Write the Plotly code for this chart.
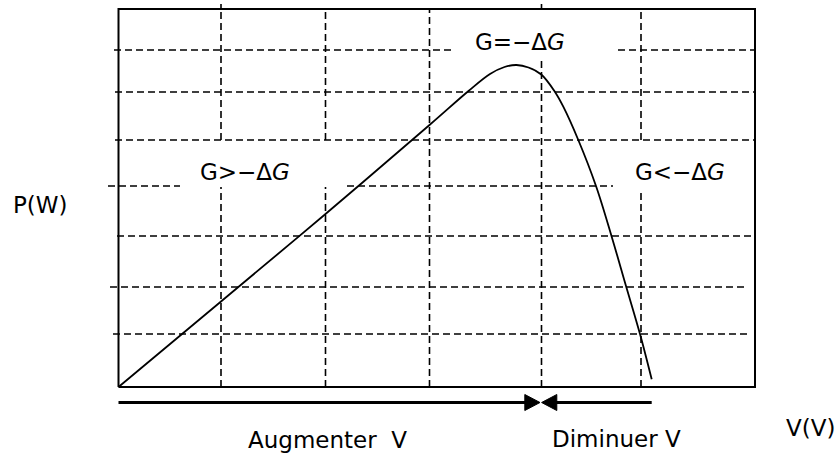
import plotly.graph_objects as go

# P-V characteristic (arbitrary units)
v = [0, 10.25, 20.7, 31.1, 35.0, 37.15, 38.6, 39.8, 41.0, 42.28, 43.65,
     44.48, 45.98, 47.75, 49.32, 50.75, 52.15, 53.32]
p = [0, 8.55, 17.3, 26.2, 29.6, 31.3, 32.0, 32.2, 31.95, 31.25, 29.5,
     28.03, 24.7, 20.1, 15.03, 10.1, 5.3, 0.77]

# frame limits
v_max = 63.65
p_max = 37.8

# dashed grid: (position, [(start, end), ...])
grid_v = [
    (10.25, [(0, 20.0), (24.7, 38.3)]),
    (20.7, [(0, 20.0), (24.7, 37.8)]),
    (31.1, [(0, 37.8)]),
    (42.3, [(0, 32.7), (37.7, 38.3)]),
    (52.25, [(0, 19.7), (24.7, 37.8)]),
]
grid_h = [
    (33.7, [(-0.45, 33.65), (49.95, 63.65)]),
    (29.5, [(-0.35, 63.65)]),
    (24.7, [(-0.35, 63.65)]),
    (20.1, [(-1.05, 6.15), (22.85, 49.45)]),
    (15.1, [(-0.15, 63.65)]),
    (10.0, [(-0.85, 62.95)]),
    (5.3, [(-0.55, 63.15)]),
]

# direction arrows below the frame
arrow_y = -1.55
arrow_start, arrow_meet, arrow_end = 0, 42.23, 53.32

FONT = "DejaVu Sans"
W, H = 835, 454
L, R, T, B = 98, 77, 0, 42

fig = go.Figure()

gx, gy = [], []
for x0, segs in grid_v:
    for a, b in segs:
        gx += [x0, x0, None]
        gy += [a, b, None]
for y0, segs in grid_h:
    for a, b in segs:
        gx += [a, b, None]
        gy += [y0, y0, None]
fig.add_trace(go.Scatter(x=gx, y=gy, mode="lines",
                         line=dict(color="black", width=1.6, dash="7px,4px")))

# frame
fig.add_trace(go.Scatter(x=[0, v_max, v_max, 0, 0], y=[0, 0, p_max, p_max, 0],
                         mode="lines", line=dict(color="black", width=2)))

# curve
fig.add_trace(go.Scatter(x=v, y=p, mode="lines",
                         line=dict(color="black", width=1.8, shape="spline",
                                   smoothing=1.0)))

# arrows
fig.add_trace(go.Scatter(x=[arrow_start, arrow_meet - 1.5, None, arrow_meet + 1.5, arrow_end],
                         y=[arrow_y, arrow_y, None, arrow_y, arrow_y],
                         mode="lines", line=dict(color="black", width=3)))
fig.add_trace(go.Scatter(
    x=[arrow_meet - 1.6, arrow_meet - 0.08, arrow_meet - 1.6, arrow_meet - 1.6],
    y=[arrow_y + 0.8, arrow_y, arrow_y - 0.8, arrow_y + 0.8],
    mode="lines", fill="toself", fillcolor="black", line=dict(color="black", width=1)))
fig.add_trace(go.Scatter(
    x=[arrow_meet + 1.6, arrow_meet + 0.08, arrow_meet + 1.6, arrow_meet + 1.6],
    y=[arrow_y + 0.8, arrow_y, arrow_y - 0.8, arrow_y + 0.8],
    mode="lines", fill="toself", fillcolor="black", line=dict(color="black", width=1)))

pw, ph = W - L - R, H - T - B


def px(xp):
    return (xp - L) / pw


def py(yp):
    return (H - B - yp) / ph


labels = [
    ("P(W)", 40, 205, "center"),
    ("G>−Δ<i>G</i>", 245, 171.7, "center"),
    ("G=−Δ<i>G</i>", 520, 41.7, "center"),
    ("G<−Δ<i>G</i>", 679.5, 171.7, "center"),
    ("Augmenter\u00a0\u00a0V", 246, 440, "left"),
    ("Diminuer V", 550, 439, "left"),
    ("V(V)", 784, 428, "left"),
]
for txt, x_, y_, anc in labels:
    fig.add_annotation(text=txt, x=px(x_), y=py(y_), xref="paper", yref="paper",
                       xanchor=anc, yanchor="middle", showarrow=False,
                       font=dict(family=FONT, size=23, color="black"))

fig.update_layout(
    width=W, height=H,
    margin=dict(l=L, r=R, t=T, b=B),
    paper_bgcolor="white", plot_bgcolor="white",
    showlegend=False,
    xaxis=dict(range=[(L - 118.5) / 10, (L + pw - 118.5) / 10], visible=False),
    yaxis=dict(range=[(387 - (H - B)) / 10, 387 / 10], visible=False),
)

fig.write_html("out.html")
